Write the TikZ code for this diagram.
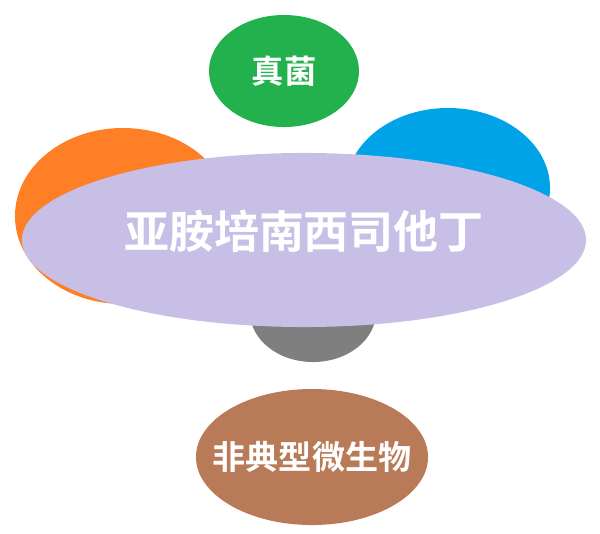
\documentclass[tikz,border=0pt]{standalone}
\usepackage{fontspec}
\newfontfamily\cjk{Noto Sans CJK SC}[BoldFont={Noto Sans CJK SC Bold}]
\usetikzlibrary{shapes.geometric}

\definecolor{paintgreen}{RGB}{34,177,76}
\definecolor{paintorange}{RGB}{255,127,39}
\definecolor{paintblue}{RGB}{0,162,232}
\definecolor{paintlavender}{RGB}{200,191,231}
\definecolor{paintgrey}{RGB}{127,127,127}
\definecolor{paintbrown}{RGB}{185,122,87}

\begin{document}
\begin{tikzpicture}[x=0.025cm,y=-0.025cm,
    blob/.style={ellipse, inner sep=0pt, inner xsep=-30pt, text=white, font=\cjk\bfseries}]
    \useasboundingbox (0,0) rectangle (600,534);

    \node[blob, fill=paintorange, minimum width=5.4cm, minimum height=4.4cm] (orange) at (123,216){};
    \node[blob, fill=paintblue, minimum width=5.1cm, minimum height=4cm] (blue) at (448,188){};
    \node[blob, fill=paintgreen, minimum width=3.75cm, minimum height=2.8cm, font=\cjk\bfseries\fontsize{23}{23}\selectfont] (fungi) at (284,71){真菌};
    \node[blob, fill=paintgrey, minimum width=3.15cm, minimum height=2.5cm] (grey) at (313,312){};
    \node[blob, fill=paintbrown, minimum width=5.8cm, minimum height=3.4cm, font=\cjk\bfseries\fontsize{23.5}{23.5}\selectfont] (atypical) at (312,457){非典型微生物};

    % the drug covers the three hidden ones
    \node[blob, fill=paintlavender, minimum width=14.1cm, minimum height=4.35cm, text height=28pt, text depth=16pt,
          font=\cjk\bfseries\fontsize{32}{32}\selectfont] (drug) at (304,240){亚胺培南西司他丁};
\end{tikzpicture}
\end{document}
